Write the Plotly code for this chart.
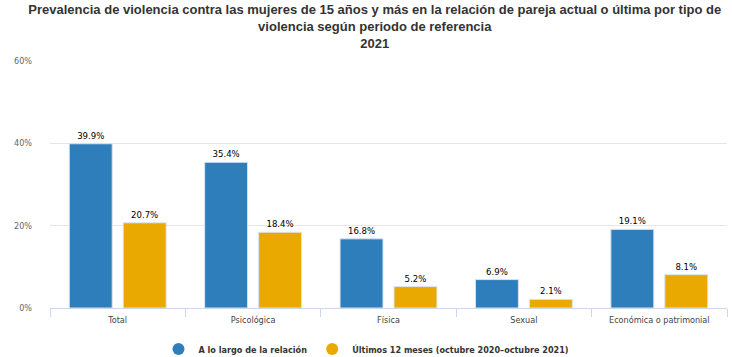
import plotly.graph_objects as go

categories = ["Total", "Psicológica", "Física", "Sexual", "Económica o patrimonial"]
series_names = ["A lo largo de la relación", "Últimos 12 meses (octubre 2020–octubre 2021)"]
lifetime = [39.9, 35.4, 16.8, 6.9, 19.1]
last12 = [20.7, 18.4, 5.2, 2.1, 8.1]
y_ticks = [0, 20, 40, 60]
title_lines = [
    "Prevalencia de violencia contra las mujeres de 15 años y más en la relación de pareja actual o última por tipo de",
    "violencia según periodo de referencia",
    "2021",
]

colors = ["#2e7ebc", "#eaa900"]
cond = "DejaVu Sans Condensed, DejaVu Sans"
label_font = dict(family=cond, size=9.5, color="#000000")

fig = go.Figure()
for name, vals, col in zip(series_names, [lifetime, last12], colors):
    fig.add_trace(go.Bar(
        x=categories, y=vals, name=name, showlegend=False,
        marker=dict(color=col, line=dict(color="#dde4ef", width=1)),
        text=[f"{v:.1f}%" for v in vals], textposition="outside",
        textfont=label_font, cliponaxis=False,
    ))
    fig.add_trace(go.Scatter(
        x=[None], y=[None], mode="markers", name=name,
        marker=dict(color=col, size=10, symbol="circle"),
    ))

fig.update_layout(
    width=732, height=357,
    paper_bgcolor="white", plot_bgcolor="white",
    margin=dict(l=50, r=5, t=61, b=49, autoexpand=False),
    barmode="group", bargap=0.203, bargroupgap=0.204,
    title=dict(
        text="<br>".join(title_lines),
        x=0.512, xanchor="center", xref="container",
        y=0.961, yanchor="top", yref="container",
        font=dict(family="Liberation Sans, Arial", size=13, color="#333333", weight="bold"),
    ),
    legend=dict(
        orientation="h", x=0.5, xanchor="center", xref="container",
        y=0.0224, yanchor="middle", yref="container",
        font=dict(family=cond, size=9, color="#333333", weight="bold"),
        itemsizing="constant",
        traceorder="normal",
    ),
    xaxis=dict(
        tickson="boundaries", ticks="outside", ticklen=8, tickcolor="#ccd6eb",
        showline=True, linecolor="#ccd6eb", linewidth=1,
        tickfont=dict(family=cond, size=9, color="#444444"),
        ticklabelstandoff=3,
        showgrid=False, automargin=False,
    ),
    yaxis=dict(
        range=[0, 60], tickvals=y_ticks, ticktext=[f"{t}%" for t in y_ticks],
        showgrid=True, gridcolor="#e6e6e6", gridwidth=1,
        zeroline=False, showline=False,
        tickfont=dict(family=cond, size=9, color="#666666"),
        ticks="", ticklabelstandoff=17, automargin=False,
    ),
)

fig.write_html(
    "out.html",
    config={"displayModeBar": False},
    post_script="document.body.style.margin='0';document.body.style.overflow='hidden';",
)
